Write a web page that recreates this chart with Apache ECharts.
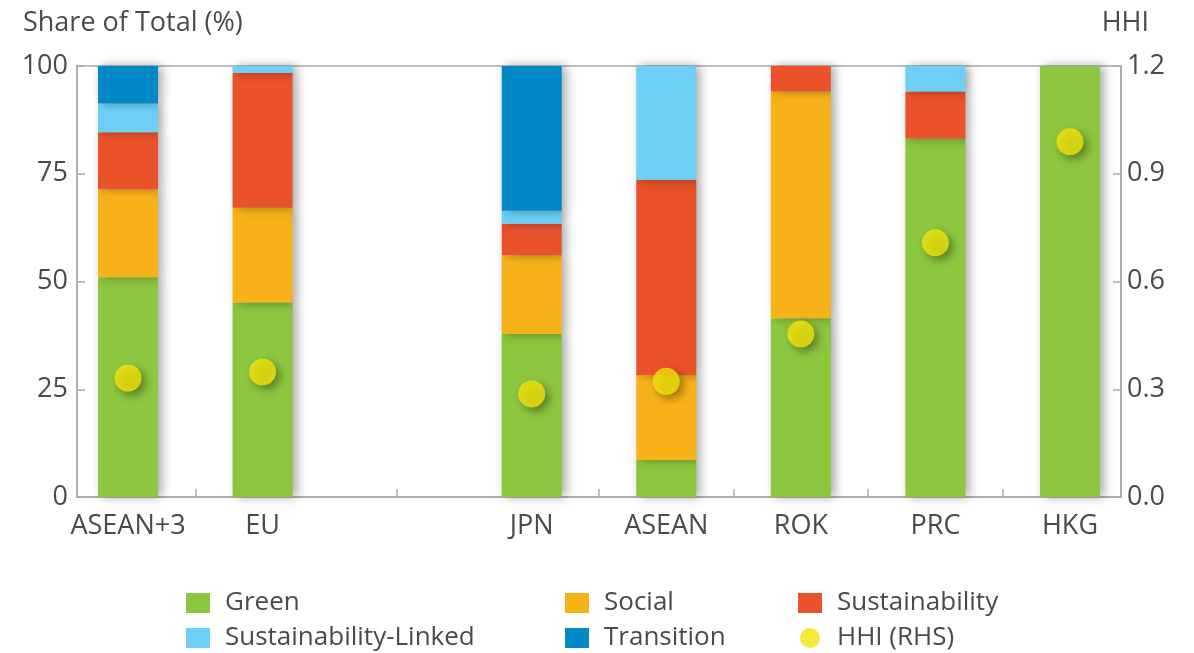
<!DOCTYPE html>
<html>
<head>
<meta charset="utf-8">
<script src="https://cdn.jsdelivr.net/npm/echarts@6/dist/echarts.min.js"></script>
<style>html,body{margin:0;padding:0;background:#fff}#c{width:1194px;height:653px}</style>
</head>
<body>
<div id="c"></div>
<script>
const categories = ['ASEAN+3', 'EU', '', 'JPN', 'ASEAN', 'ROK', 'PRC', 'HKG'];
const green          = [51.0, 45.1, null, 37.8,  8.6, 41.5, 83.1, 100];
const social         = [20.4, 22.0, null, 18.3, 19.7, 52.6,  0.0,   0];
const sustainability = [13.2, 31.3, null,  7.3, 45.3,  5.9, 11.0,   0];
const sustLinked     = [ 6.7,  1.6, null,  3.0, 26.4,  0.0,  5.9,   0];
const transition     = [ 8.7,  0.0, null, 33.6,  0.0,  0.0,  0.0,   0];
const hhi            = [0.331, 0.348, null, 0.287, 0.322, 0.454, 0.708, 0.989];
const groupTicks = [0.5, 2, 3.5, 4.5, 5.5, 6.5];

const FONT = 'Open Sans';
const FS = 27;
const TXT = '#4a4a4a';
const AX = '#aaaaaa';
const labelIdx = categories.map((c, i) => c ? i : null).filter(i => i !== null);

const barShadow = {shadowColor: 'rgba(0,0,0,0.35)', shadowBlur: 10, shadowOffsetX: 4, shadowOffsetY: 0};
function barSeries(name, arr, color) {
  return {
    name, type: 'bar', stack: 'total', barWidth: 60, xAxisIndex: 1, yAxisIndex: 2,
    itemStyle: Object.assign({color}, barShadow),
    data: arr.map(v => v === null ? '-' : v)
  };
}
const legendText = {fontSize: FS - 1, color: TXT, fontFamily: FONT, lineHeight: 26, padding: [0, 0, 0, 10]};
function legendCol(names, icons, left) {
  return {
    data: names.map((n, i) => ({name: n, icon: icons[i]})),
    orient: 'vertical', left, top: 590, padding: 0,
    itemWidth: 24, itemHeight: 20, itemGap: 9, textStyle: legendText
  };
}

const chart = echarts.init(document.getElementById('c'), null, {renderer: 'canvas'});
chart.setOption({
  animation: false,
  textStyle: {fontFamily: FONT},
  title: [
    {text: 'Share of Total (%)', left: 18, top: 5, textStyle: {fontFamily: FONT, fontSize: FS, fontWeight: 'normal', color: TXT}},
    {text: 'HHI', right: 40, top: 5, textStyle: {fontFamily: FONT, fontSize: FS, fontWeight: 'normal', color: TXT}}
  ],
  grid: [
    {left: 77, right: 73, top: 66, bottom: 156, show: true, borderColor: AX, borderWidth: 1.5},
    {left: 60.75, right: 56.75, top: 66, bottom: 156}
  ],
  xAxis: [
    {
      gridIndex: 0, type: 'value', min: -0.379, max: 7.379,
      axisLine: {show: true, onZero: false, lineStyle: {color: AX, width: 1.5}},
      axisTick: {show: true, inside: true, length: 8, customValues: groupTicks, lineStyle: {color: AX, width: 1.5}},
      axisLabel: {customValues: labelIdx, formatter: v => categories[Math.round(v)], fontSize: FS, color: TXT, margin: 16, fontFamily: FONT},
      splitLine: {show: false}
    },
    {gridIndex: 1, type: 'category', data: categories, show: false}
  ],
  yAxis: [
    {
      gridIndex: 0, type: 'value', min: 0, max: 100, interval: 25,
      axisLine: {show: true, onZero: false, lineStyle: {color: AX, width: 1.5}},
      axisTick: {show: true, inside: true, length: 8, lineStyle: {color: AX, width: 1.5}},
      axisLabel: {fontSize: FS, color: TXT, margin: 9, fontFamily: FONT},
      splitLine: {show: false}
    },
    {
      gridIndex: 0, type: 'value', min: 0, max: 1.2, interval: 0.3, position: 'right',
      axisLine: {show: true, onZero: false, lineStyle: {color: AX, width: 1.5}},
      axisTick: {show: true, inside: true, length: 8, lineStyle: {color: AX, width: 1.5}},
      axisLabel: {fontSize: FS, color: TXT, margin: 6, fontFamily: FONT, formatter: v => v.toFixed(1)},
      splitLine: {show: false}
    },
    {gridIndex: 1, type: 'value', min: 0, max: 100, show: false, splitLine: {show: false}},
    {gridIndex: 1, type: 'value', min: 0, max: 1.2, show: false, splitLine: {show: false}}
  ],
  legend: [
    legendCol(['Green', 'Sustainability-Linked'], ['rect', 'rect'], 186),
    legendCol(['Social', 'Transition'], ['rect', 'rect'], 565),
    legendCol(['Sustainability', 'HHI (RHS)'], ['rect', 'circle'], 798)
  ],
  series: [
    barSeries('Green', green, '#8DC63F'),
    barSeries('Social', social, '#F8B219'),
    barSeries('Sustainability', sustainability, '#E9522B'),
    barSeries('Sustainability-Linked', sustLinked, '#6DCFF6'),
    barSeries('Transition', transition, '#0088C7'),
    {
      name: 'HHI (RHS)', type: 'scatter', xAxisIndex: 1, yAxisIndex: 3, symbol: 'circle', symbolSize: 27, z: 5,
      itemStyle: {color: '#F2E50B', shadowColor: 'rgba(0,0,0,0.45)', shadowBlur: 8, shadowOffsetX: 4, shadowOffsetY: 4},
      data: hhi.map(v => v === null ? '-' : v)
    }
  ]
});
</script>
</body>
</html>
